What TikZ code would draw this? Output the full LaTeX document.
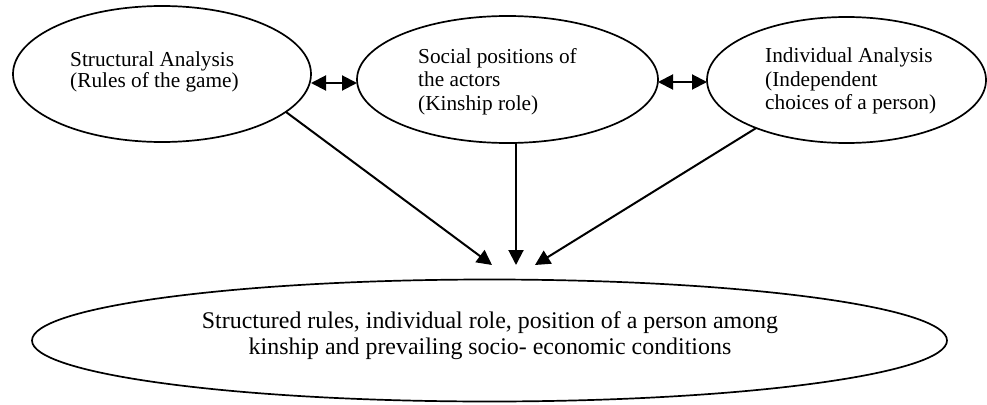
\documentclass[tikz,border=0pt]{standalone}
\usepackage{fontspec}
\setmainfont{Liberation Serif}
\usetikzlibrary{shapes.geometric,arrows.meta}
\begin{document}
\begin{tikzpicture}[x=1pt,y=-1pt,
  oval/.style={draw,ellipse,line width=1.7pt,inner sep=0pt,outer sep=0pt},
  toplbl/.style={anchor=north west,align=left,inner sep=0pt},
  link/.style={line width=2pt,-{Triangle[length=15pt,width=15pt]}},
  both/.style={line width=2pt,{Triangle[length=15pt,width=15pt]}-{Triangle[length=15pt,width=15pt]}}]
\useasboundingbox (0,0) rectangle (987,404);
% ellipses
\node[oval,minimum width=298pt,minimum height=136pt] (e1) at (162,74) {};
\node[oval,minimum width=301pt,minimum height=127pt] (e2) at (507.5,79.5) {};
\node[oval,minimum width=279pt,minimum height=126pt] (e3) at (846.5,80) {};
\node[oval,minimum width=915pt,minimum height=122pt] (e4) at (489.5,340.5) {};
% texts
\node[toplbl,font=\fontsize{21.3}{16.5}\selectfont] (t1) at (70,52) {Structural Analysis\\(Rules of the game)};
\node[toplbl,font=\fontsize{21.3}{23.5}\selectfont] (t2) at (418,48) {Social positions of\\the actors\\(Kinship role)};
\node[toplbl,font=\fontsize{21.3}{23.5}\selectfont] (t3) at (765,48) {Individual Analysis\\(Independent\\choices of a person)};
\node[anchor=north,align=center,inner sep=0pt,font=\fontsize{23.9}{26}\selectfont] (t4) at (490,311.6) {Structured rules, individual role, position of a person among\\kinship and prevailing socio- economic conditions};
% arrow tips
\coordinate (p1) at (492,265);
\coordinate (p2) at (516,265);
\coordinate (p3) at (535,265);
% connectors
\draw[both] ([yshift=-9pt]e1.east) -- ([yshift=-3.5pt]e2.west);
\draw[both] ([yshift=-2.5pt]e2.east) -- ([yshift=-2pt]e3.west);
\draw[link] (e1.-17) -- (p1);
\draw[link] (e2.south -| p2) -- (p2);
\draw[link] (e3.208) -- (p3);
\end{tikzpicture}
\end{document}
